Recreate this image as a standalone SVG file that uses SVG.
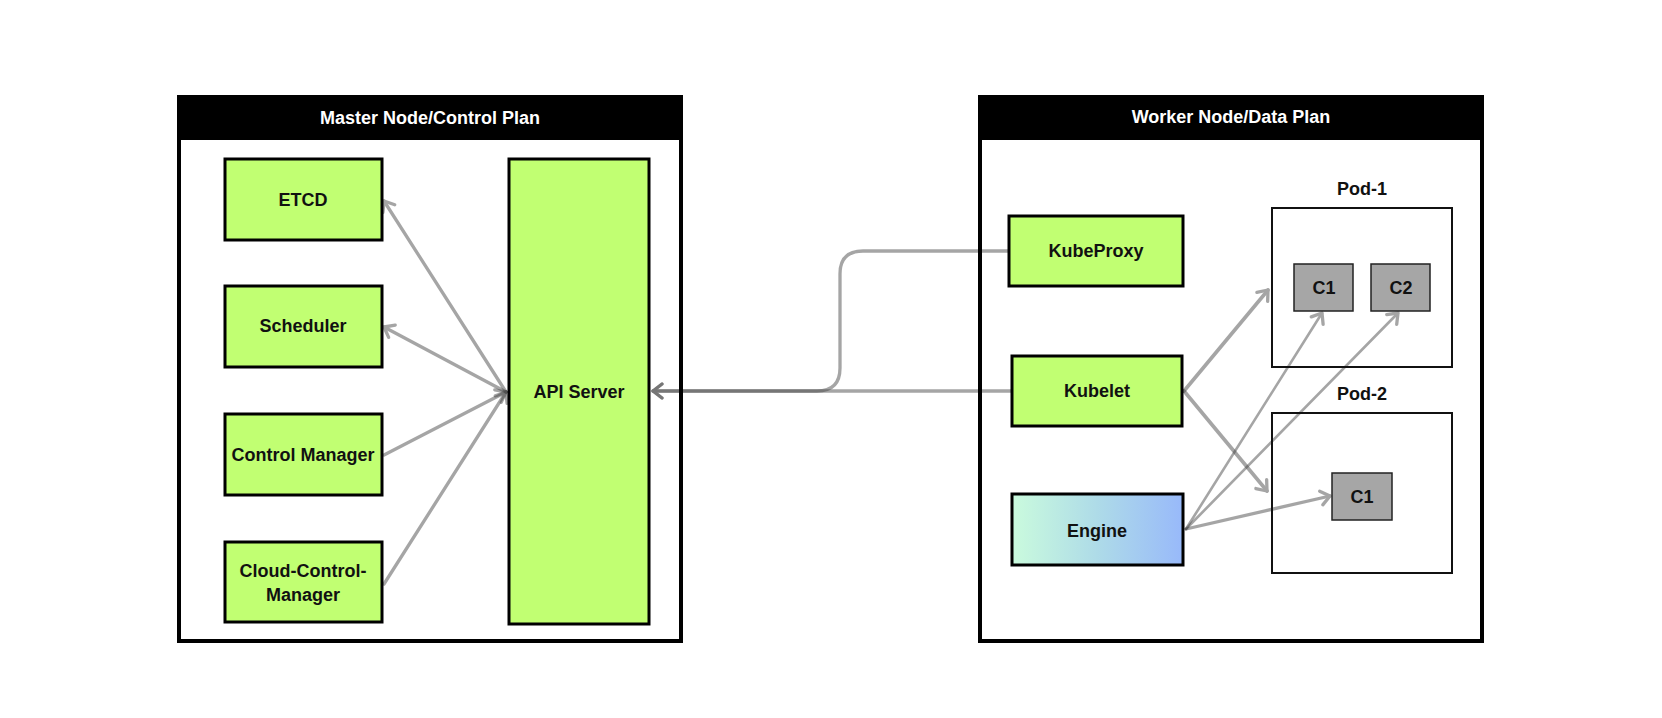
<svg xmlns="http://www.w3.org/2000/svg" width="1662" height="718" viewBox="0 0 1662 718">
  <style>
    .lbl { font-family: "Liberation Sans", Arial, sans-serif; font-weight: bold; font-size: 18px; fill: #111; text-anchor: middle; dominant-baseline: central; }
    .head { font-family: "Liberation Sans", Arial, sans-serif; font-weight: bold; font-size: 18px; fill: #fff; text-anchor: middle; dominant-baseline: central; }
    .frame { fill: none; stroke: #000; stroke-width: 4; }
    .band { fill: #000; }
    .lime { fill: #c1ff72; stroke: #000; stroke-width: 3; }
    .pod { fill: none; stroke: #111; stroke-width: 2; }
    .ctr { fill: #a6a6a6; stroke: #222; stroke-width: 1.5; }
    .conn { fill: none; stroke: #424242; stroke-width: 3.3; stroke-linecap: round; stroke-linejoin: round; }
    .thin { stroke-width: 2.6; }
    .c { opacity: 0.47; }
  </style>
  <defs>
    <linearGradient id="engGrad" x1="0" y1="0" x2="1" y2="0">
      <stop offset="0" stop-color="#cafbdd"/>
      <stop offset="0.5" stop-color="#aedbe8"/>
      <stop offset="1" stop-color="#98b9fa"/>
    </linearGradient>
    <marker id="arr" markerUnits="userSpaceOnUse" markerWidth="20" markerHeight="20" viewBox="-14 -10 18 20" refX="0" refY="0" orient="auto">
      <path d="M-9,-7 L0,0 L-9,7" fill="none" stroke="#424242" stroke-width="3.3" stroke-linecap="round" stroke-linejoin="round"/>
    </marker>
  </defs>
  <rect x="0" y="0" width="1662" height="718" fill="#fff"/>

  <g id="connectors">
    <g class="c"><path class="conn" d="M506,392 L384,201" marker-end="url(#arr)"/></g>
    <g class="c"><path class="conn" d="M506,392 L384,327" marker-end="url(#arr)"/></g>
    <g class="c"><path class="conn" d="M384,455 L506,392" marker-end="url(#arr)"/></g>
    <g class="c"><path class="conn" d="M384,584 L506,392" marker-end="url(#arr)"/></g>
    <g class="c"><path class="conn" d="M1008,251 H863 Q840,251 840,274 V368 Q840,391 817,391 H653" marker-end="url(#arr)"/></g>
    <g class="c"><path class="conn" d="M1011,391 H653" marker-end="url(#arr)"/></g>
    <g class="c"><path class="conn" style="stroke-width:3.6" d="M1184,391 L1268,290" marker-end="url(#arr)"/></g>
    <g class="c"><path class="conn" style="stroke-width:3.6" d="M1184,391 L1267,491" marker-end="url(#arr)"/></g>
    <g class="c"><path class="conn thin" d="M1186,529 L1322,313" marker-end="url(#arr)"/></g>
    <g class="c"><path class="conn thin" d="M1186,529 L1398,313" marker-end="url(#arr)"/></g>
    <g class="c"><path class="conn" d="M1186,529 L1330,496" marker-end="url(#arr)"/></g>
  </g>

  <g id="master">
    <rect class="frame" x="179" y="97" width="502" height="544"/>
    <rect class="band" x="177" y="95" width="506" height="45"/>
    <text class="head" x="430" y="118">Master Node/Control Plan</text>
  </g>
  <g id="worker">
    <rect class="frame" x="980" y="97" width="502" height="544"/>
    <rect class="band" x="978" y="95" width="506" height="45"/>
    <text class="head" x="1231" y="117">Worker Node/Data Plan</text>
  </g>

  <g id="etcd">
    <rect class="lime" x="225" y="159" width="157" height="81"/>
    <text class="lbl" x="303" y="200">ETCD</text>
  </g>
  <g id="scheduler">
    <rect class="lime" x="225" y="286" width="157" height="81"/>
    <text class="lbl" x="303" y="326">Scheduler</text>
  </g>
  <g id="control-manager">
    <rect class="lime" x="225" y="414" width="157" height="81"/>
    <text class="lbl" x="303" y="455">Control Manager</text>
  </g>
  <g id="cloud-control-manager">
    <rect class="lime" x="225" y="542" width="157" height="80"/>
    <text class="lbl" x="303" y="571">Cloud-Control-</text>
    <text class="lbl" x="303" y="595">Manager</text>
  </g>
  <g id="api-server">
    <rect class="lime" x="509" y="159" width="140" height="465"/>
    <text class="lbl" x="579" y="392">API Server</text>
  </g>

  <g id="kubeproxy">
    <rect class="lime" x="1009" y="216" width="174" height="70"/>
    <text class="lbl" x="1096" y="251">KubeProxy</text>
  </g>
  <g id="kubelet">
    <rect class="lime" x="1012" y="356" width="170" height="70"/>
    <text class="lbl" x="1097" y="391">Kubelet</text>
  </g>
  <g id="engine">
    <rect x="1012" y="494" width="171" height="71" fill="url(#engGrad)" stroke="#000" stroke-width="3"/>
    <text class="lbl" x="1097" y="531">Engine</text>
  </g>

  <g id="pod-1">
    <text class="lbl" x="1362" y="189">Pod-1</text>
    <rect class="pod" x="1272" y="208" width="180" height="159"/>
  </g>
  <g id="pod1-c1">
    <rect class="ctr" x="1294" y="264" width="59" height="47"/>
    <text class="lbl" x="1324" y="288">C1</text>
  </g>
  <g id="pod1-c2">
    <rect class="ctr" x="1371" y="264" width="59" height="47"/>
    <text class="lbl" x="1401" y="288">C2</text>
  </g>
  <g id="pod-2">
    <text class="lbl" x="1362" y="394">Pod-2</text>
    <rect class="pod" x="1272" y="413" width="180" height="160"/>
  </g>
  <g id="pod2-c1">
    <rect class="ctr" x="1332" y="473" width="60" height="47"/>
    <text class="lbl" x="1362" y="497">C1</text>
  </g>
</svg>
